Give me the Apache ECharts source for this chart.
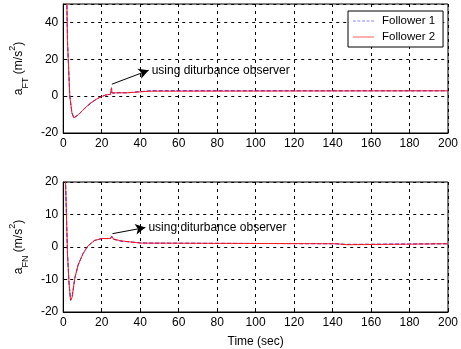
<!DOCTYPE html>
<html>
<head>
<meta charset="utf-8">
<script src="https://cdn.jsdelivr.net/npm/echarts@6/dist/echarts.min.js"></script>
<style>
  html, body { margin: 0; padding: 0; background: #fff; }
  #chart { width: 461px; height: 349px; }
</style>
</head>
<body>
<div id="chart"></div>
<script>
// tangential acceleration a_FT, [time, value]
const ftFollower1 = [[0, 300], [1.9, 50], [2.2, 30], [3.4, 0], [4.5, -9], [5.5, -11.8], [6.5, -11.5], [8, -10], [10, -7.8], [12, -5.8], [14, -4], [16, -2.5], [18, -1.2], [20, -0.2], [22, 0.6], [24.5, 1.0], [25, 1.0], [25.1, 4.5], [25.3, 1.8], [27, 1.6], [29, 1.9], [33, 1.8], [33.2, 2.7], [43, 2.7], [44, 3.1], [46, 2.9], [200, 2.9]];
const ftFollower2 = [[0, 300], [1.9, 50], [2.2, 30], [3.4, 0], [4.5, -9], [5.5, -11.8], [6.5, -11.5], [8, -10], [10, -7.8], [12, -5.8], [14, -4], [16, -2.5], [18, -1.2], [20, -0.2], [22, 0.6], [24.5, 1.0], [25, 1.0], [25.1, 4.5], [25.3, 1.8], [33, 1.8], [33.2, 2.7], [45, 2.7], [46, 2.9], [200, 2.9]];
// normal acceleration a_FN
const fnFollower1 = [[0, 200], [1.2, 20], [2.2, -2], [3, -11], [3.8, -16.4], [4.6, -15.5], [6, -9.6], [7.7, -5.6], [10.3, -2], [12.8, 0.3], [16.2, 2], [20, 2.6], [24.5, 2.6], [25.2, 3.3], [26, 2.4], [30, 1.8], [40, 1.3], [43, 1.2], [43.5, 1.0], [141, 1.0], [142, 0.8], [147, 0.8], [148, 1.0], [200, 1.0]];
const fnFollower2 = [[0, 200], [1.2, 20], [2.2, -2], [3, -11], [3.8, -16.4], [4.6, -15.5], [6, -9.6], [7.7, -5.6], [10.3, -2], [12.8, 0.3], [16.2, 2], [20, 2.6], [24.5, 2.6], [25.2, 3.3], [26, 2.5], [30, 1.9], [40, 1.2], [43, 1.2], [43.5, 1.0], [142, 1.0], [142.5, 0.7], [147.5, 0.7], [148, 1.0], [200, 1.0]];

const ftRange = [-20, 50];
const fnRange = [-20, 20];
const annotationText = 'using diturbance observer';
const ftArrow = [[25.3, 6.5], [44.4, 14]];
const fnArrow = [[25.6, 4.1], [42.7, 6.0]];

const FONT = 'Liberation Sans, Arial, sans-serif';
const RED = '#ff1a1a';
const BLUE = '#0000ff';
const SOLID_ICON = 'path://M0,0h30v1h-30z';
const DASH_ICON = 'path://M0,0h4v1h-4zM6.5,0h4v1h-4zM13,0h4v1h-4zM19.5,0h4v1h-4zM26,0h4v1h-4z';

const chart = echarts.init(document.getElementById('chart'));

function xAxis(idx, withName) {
  return {
    type: 'value', gridIndex: idx, min: 0, max: 200, interval: 20,
    name: withName ? 'Time (sec)' : '',
    nameLocation: 'middle', nameGap: 24,
    nameTextStyle: { color: '#000', fontSize: 12, fontFamily: FONT },
    axisLine: { show: true, onZero: false, lineStyle: { color: '#000' } },
    axisTick: { inside: true, length: 4, lineStyle: { color: '#000' } },
    axisLabel: { color: '#000', fontSize: 12, fontFamily: FONT, margin: 5 },
    splitLine: { show: true, lineStyle: { color: '#000', type: [3, 4], width: 1 } }
  };
}

function yAxis(idx, range, interval, sub, showMax) {
  return {
    type: 'value', gridIndex: idx, min: range[0], max: range[1], interval: interval,
    name: '{a|a}{s|' + sub + '}{a| (m/s}{p|2}{a|)}',
    nameLocation: 'middle', nameGap: 24, nameRotate: 90,
    nameTextStyle: {
      color: '#000', fontFamily: FONT,
      rich: {
        a: { fontSize: 12, fontFamily: FONT, color: '#000', lineHeight: 16 },
        s: { fontSize: 9, fontFamily: FONT, color: '#000', verticalAlign: 'bottom', lineHeight: 22 },
        p: { fontSize: 9, fontFamily: FONT, color: '#000', verticalAlign: 'top', lineHeight: 10 }
      }
    },
    axisLine: { show: true, onZero: false, lineStyle: { color: '#000' } },
    axisTick: { inside: true, length: 4, lineStyle: { color: '#000' } },
    axisLabel: { color: '#000', fontSize: 12, fontFamily: FONT, margin: 5, showMaxLabel: showMax },
    splitLine: { show: true, lineStyle: { color: '#000', type: [3, 4], width: 1 } }
  };
}

function annotation(arrow) {
  return {
    markLine: {
      silent: true, symbol: ['none', 'arrow'], symbolSize: [8, 10],
      lineStyle: { color: '#000', type: 'solid', width: 1 },
      label: { show: false },
      data: [[{ coord: arrow[0] }, { coord: arrow[1] }]]
    },
    markPoint: {
      silent: true, symbol: 'circle', symbolSize: 0,
      label: { show: true, position: 'right', distance: 3, formatter: annotationText, color: '#000', fontSize: 12, fontFamily: FONT },
      data: [{ coord: arrow[1] }]
    }
  };
}

chart.setOption({
  animation: false,
  backgroundColor: '#fff',
  grid: [
    { left: 60, top: 4, width: 390, height: 129, show: true, borderColor: '#000', borderWidth: 1, backgroundColor: '#fff' },
    { left: 60, top: 182, width: 390, height: 130, show: true, borderColor: '#000', borderWidth: 1, backgroundColor: '#fff' }
  ],
  legend: {
    data: [{ name: 'Follower 1', icon: DASH_ICON }, { name: 'Follower 2', icon: SOLID_ICON }],
    orient: 'vertical', left: 348, top: 11,
    backgroundColor: '#fff', borderColor: '#000', borderWidth: 1,
    padding: [3, 8, 3, 5], itemGap: 2, itemWidth: 21, itemHeight: 1.5,
    textStyle: { color: '#000', fontSize: 11.5, fontFamily: FONT, padding: [0, 0, 0, 3], lineHeight: 14 }
  },
  xAxis: [xAxis(0, false), xAxis(1, true)],
  yAxis: [yAxis(0, ftRange, 20, 'FT', false), yAxis(1, fnRange, 10, 'FN', true)],
  series: [
    { name: 'Follower 1', type: 'line', xAxisIndex: 0, yAxisIndex: 0, data: ftFollower1, showSymbol: false, symbol: 'none', lineStyle: { color: BLUE, width: 1, type: 'dashed' }, itemStyle: { color: BLUE }, z: 2 },
    Object.assign({ name: 'Follower 2', type: 'line', xAxisIndex: 0, yAxisIndex: 0, data: ftFollower2, showSymbol: false, symbol: 'none', lineStyle: { color: RED, width: 1 }, itemStyle: { color: RED }, z: 3 }, annotation(ftArrow)),
    { name: 'Follower 1', type: 'line', xAxisIndex: 1, yAxisIndex: 1, data: fnFollower1, showSymbol: false, symbol: 'none', lineStyle: { color: BLUE, width: 1, type: 'dashed' }, itemStyle: { color: BLUE }, z: 2 },
    Object.assign({ name: 'Follower 2', type: 'line', xAxisIndex: 1, yAxisIndex: 1, data: fnFollower2, showSymbol: false, symbol: 'none', lineStyle: { color: RED, width: 1 }, itemStyle: { color: RED }, z: 3 }, annotation(fnArrow))
  ]
});
</script>
</body>
</html>
